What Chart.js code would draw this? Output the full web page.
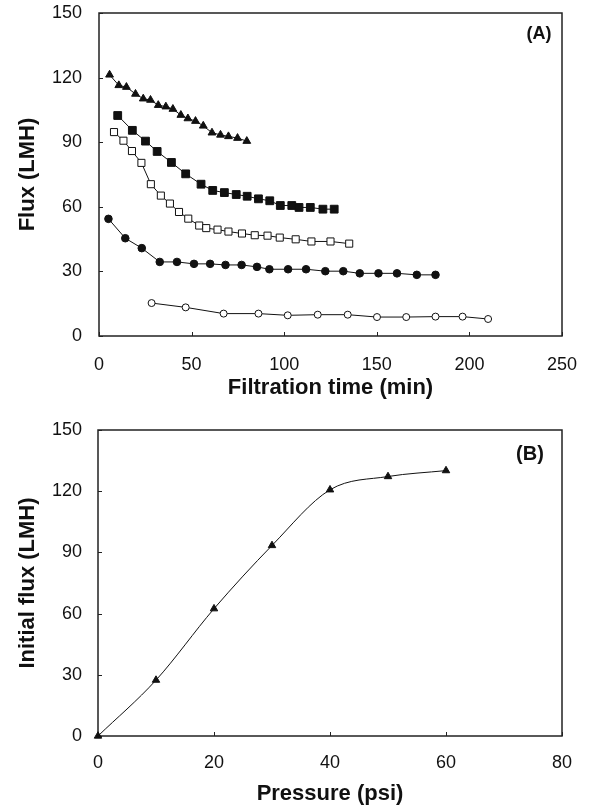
<!DOCTYPE html>
<html>
<head>
<meta charset="utf-8">
<script src="https://cdn.jsdelivr.net/npm/chart.js@4.4.1/dist/chart.umd.min.js"></script>
<style>
  html, body { margin: 0; padding: 0; background: #fff; }
  #wrap { position: relative; width: 590px; height: 809px; }
  #wrap canvas { position: absolute; left: 0; }
  #chartA { top: 0; }
  #chartB { top: 405px; }
</style>
</head>
<body>
<div id="wrap">
  <canvas id="chartA" width="590" height="405"></canvas>
  <canvas id="chartB" width="590" height="404"></canvas>
</div>
<script>
// (A) flux vs filtration time, five runs
const timeTriangle = [5.7, 10.7, 14.8, 19.7, 23.9, 27.8, 32.0, 36.1, 39.9, 44.2, 48.0, 52.1, 56.3, 61.0, 65.6, 69.9, 74.8, 79.8];
const fluxTriangle = [121.3, 116.4, 115.6, 112.4, 110.2, 109.6, 107.2, 106.5, 105.4, 102.6, 101.0, 99.8, 97.6, 94.4, 93.4, 92.7, 91.9, 90.5];

const timeSquare = [10.1, 18.0, 25.1, 31.4, 39.1, 46.8, 55.1, 61.4, 67.7, 74.1, 80.0, 86.1, 92.2, 97.9, 104.1, 108.0, 114.1, 120.9, 127.0];
const fluxSquare = [102.4, 95.5, 90.5, 85.7, 80.6, 75.3, 70.5, 67.6, 66.6, 65.7, 64.9, 63.7, 62.8, 60.6, 60.6, 59.7, 59.7, 58.9, 58.9];

const timeOpenSquare = [8.1, 13.2, 17.8, 22.9, 28.0, 33.4, 38.3, 43.2, 48.2, 54.1, 57.9, 64.0, 69.9, 77.2, 84.1, 91.0, 97.6, 106.2, 114.7, 125.0, 135.1];
const fluxOpenSquare = [94.7, 90.7, 85.9, 80.4, 70.5, 65.2, 61.5, 57.6, 54.5, 51.3, 50.1, 49.4, 48.5, 47.6, 46.8, 46.6, 45.7, 44.9, 43.9, 43.9, 42.9];

const timeCircle = [5.1, 14.2, 23.1, 32.8, 42.1, 51.3, 60.0, 68.3, 77.0, 85.3, 92.0, 102.1, 111.8, 122.2, 131.9, 140.8, 150.9, 160.9, 171.6, 181.7];
const fluxCircle = [54.4, 45.4, 40.8, 34.4, 34.4, 33.5, 33.5, 33.0, 33.0, 32.1, 31.0, 31.0, 31.0, 30.1, 30.1, 29.1, 29.1, 29.1, 28.4, 28.4];

const timeOpenCircle = [28.4, 46.8, 67.3, 86.1, 101.9, 118.1, 134.3, 150.1, 165.9, 181.7, 196.3, 210.1];
const fluxOpenCircle = [15.3, 13.3, 10.4, 10.4, 9.6, 9.9, 9.9, 8.8, 8.8, 9.0, 9.0, 7.9];

// (B) initial flux vs pressure
const pressure = [0, 10, 20, 30, 40, 50, 60];
const initialFlux = [0, 27.4, 62.4, 93.4, 120.7, 127.2, 130.1];

const fluxTicks = [0, 30, 60, 90, 120, 150];
const timeTicks = [0, 50, 100, 150, 200, 250];
const pressureTicks = [0, 20, 40, 60, 80];

const toPoints = (xs, ys) => xs.map((x, i) => ({ x: x, y: ys[i] }));

// box around the plot, short ticks pointing inward, panel letter
const framePlugin = {
    id: 'frame',
    beforeDatasetsDraw(chart, args, opts) {
        const { ctx, chartArea: a, scales } = chart;
        ctx.save();
        ctx.strokeStyle = '#222';
        ctx.lineWidth = 1.5;
        ctx.strokeRect(a.left, a.top, a.right - a.left, a.bottom - a.top);
        ctx.lineWidth = 1;
        scales.x.ticks.forEach((t, i) => {
            const px = Math.round(scales.x.getPixelForTick(i)) + 0.5;
            ctx.beginPath();
            ctx.moveTo(px, a.bottom);
            ctx.lineTo(px, a.bottom - 4);
            ctx.stroke();
        });
        scales.y.ticks.forEach((t, i) => {
            const py = Math.round(scales.y.getPixelForTick(i)) + 0.5;
            ctx.beginPath();
            ctx.moveTo(a.left, py);
            ctx.lineTo(a.left + 4, py);
            ctx.stroke();
        });
        ctx.fillStyle = '#111';
        ctx.font = 'bold ' + opts.size + 'px "Liberation Sans", Arial, sans-serif';
        ctx.textAlign = 'center';
        ctx.textBaseline = 'middle';
        ctx.fillText(opts.label, a.right - opts.dx, a.top + opts.dy);
        ctx.restore();
    }
};

const tickFont = { family: '"Liberation Sans", Arial, sans-serif', size: 18 };
const titleFont = { family: '"Liberation Sans", Arial, sans-serif', size: 22, weight: 'bold' };

const makeScales = (xTicks, xTitle, yTitle, xAxisH, yAxisW, xPad, yPad, xTitlePad, yTitlePad) => ({
    x: {
        type: 'linear', min: 0, max: xTicks[xTicks.length - 1],
        afterBuildTicks: s => { s.ticks = xTicks.map(v => ({ value: v })); },
        afterFit: s => { s.height = xAxisH; s.paddingLeft = 0; s.paddingRight = 0; },
        grid: { display: false, drawTicks: false },
        border: { display: false },
        ticks: { font: tickFont, color: '#111', padding: xPad, maxRotation: 0 },
        title: { display: true, text: xTitle, font: titleFont, color: '#111', padding: { top: 0, bottom: xTitlePad } }
    },
    y: {
        type: 'linear', min: 0, max: 150,
        afterBuildTicks: s => { s.ticks = fluxTicks.map(v => ({ value: v })); },
        afterFit: s => { s.width = yAxisW; s.paddingTop = 0; s.paddingBottom = 0; },
        grid: { display: false, drawTicks: false },
        border: { display: false },
        ticks: { font: tickFont, color: '#111', padding: yPad },
        title: { display: true, text: yTitle, font: titleFont, color: '#111', padding: { top: yTitlePad, bottom: 0 } }
    }
});

const series = (data, style, radius, filled) => ({
    data: data,
    showLine: true,
    borderColor: '#111',
    borderWidth: 1,
    tension: 0,
    clip: false,
    pointStyle: style,
    pointRadius: radius,
    pointBorderWidth: 1,
    pointBorderColor: '#111',
    pointBackgroundColor: filled ? '#111' : '#fff'
});

new Chart(document.getElementById('chartA'), {
    type: 'scatter',
    data: {
        datasets: [
            series(toPoints(timeTriangle, fluxTriangle), 'triangle', 4.5, true),
            series(toPoints(timeSquare, fluxSquare), 'rect', 5.5, true),
            series(toPoints(timeOpenSquare, fluxOpenSquare), 'rect', 5, false),
            series(toPoints(timeCircle, fluxCircle), 'circle', 3.8, true),
            series(toPoints(timeOpenCircle, fluxOpenCircle), 'circle', 3.5, false)
        ]
    },
    options: {
        responsive: false,
        animation: false,
        devicePixelRatio: 1,
        layout: { padding: { top: 13, right: 28, bottom: 0, left: 0 } },
        plugins: {
            legend: { display: false },
            tooltip: { enabled: false },
            frame: { label: '(A)', size: 18, dx: 23, dy: 21 }
        },
        scales: makeScales(timeTicks, 'Filtration time (min)', 'Flux (LMH)', 69, 99, 18, 17, 4, 15)
    },
    plugins: [framePlugin]
});

const curveB = series(toPoints(pressure, initialFlux), 'triangle', 4.3, true);
curveB.cubicInterpolationMode = 'monotone';

new Chart(document.getElementById('chartB'), {
    type: 'scatter',
    data: { datasets: [curveB] },
    options: {
        responsive: false,
        animation: false,
        devicePixelRatio: 1,
        layout: { padding: { top: 25, right: 28, bottom: 0, left: 0 } },
        plugins: {
            legend: { display: false },
            tooltip: { enabled: false },
            frame: { label: '(B)', size: 20, dx: 32, dy: 24 }
        },
        scales: makeScales(pressureTicks, 'Pressure (psi)', 'Initial flux (LMH)', 73, 98, 16, 16, 2, 15)
    },
    plugins: [framePlugin]
});
</script>
</body>
</html>
